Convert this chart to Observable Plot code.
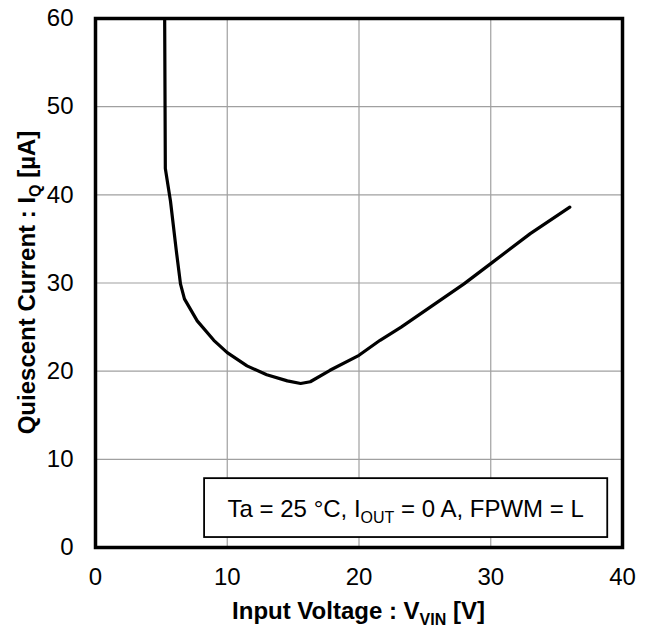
<!DOCTYPE html>
<html><head><meta charset="utf-8">
<script src="https://cdn.jsdelivr.net/npm/d3@7"></script>
<script src="https://cdn.jsdelivr.net/npm/@observablehq/plot@0.6"></script>
<style>body{margin:0;background:#fff} svg{display:block}</style>
</head><body><div id="chart"></div>
<script>
const vin = [5.25, 5.3, 5.69, 6.13, 6.45, 6.75, 7.72, 8.98, 10.0, 11.5, 13.0, 14.56, 15.57, 16.3, 17.8, 20.0, 21.6, 23.2, 27.97, 30.0, 33.0, 36.0];
const iq  = [60, 43, 39.3, 33.7, 29.9, 28.2, 25.7, 23.5, 22.1, 20.6, 19.6, 18.9, 18.6, 18.8, 20.1, 21.8, 23.5, 25.0, 29.9, 32.2, 35.6, 38.6];
const xTicks = [0, 10, 20, 30, 40];
const yTicks = [0, 10, 20, 30, 40, 50, 60];
const xTitle = ["Input Voltage : V", "VIN", " [V]"];
const yTitle = ["Quiescent Current : I", "Q", " [µA]"];
const legendText = ["Ta = 25 °C, I", "OUT", " = 0 A, FPWM = L"];

const data = vin.map((v, i) => ({vin: v, iq: iq[i]}));
const font = "'Liberation Sans', Arial, sans-serif";

const chart = Plot.plot({
  width: 654, height: 631,
  marginLeft: 95, marginRight: 32, marginTop: 18, marginBottom: 84,
  style: {fontFamily: font, fontSize: "24px", color: "#000", background: "#fff"},
  x: {domain: [0, 40], label: null},
  y: {domain: [0, 60], label: null},
  marks: [
    Plot.gridX(xTicks, {stroke: "#a0a0a0", strokeOpacity: 1, strokeWidth: 1.2}),
    Plot.gridY(yTicks, {stroke: "#a0a0a0", strokeOpacity: 1, strokeWidth: 1.2}),
    Plot.axisX(xTicks, {tickSize: 0, tickPadding: 20, fontSize: 24, label: null}),
    Plot.axisY(yTicks, {tickSize: 0, tickPadding: 22, fontSize: 24, label: null}),
    Plot.line(data, {x: "vin", y: "iq", stroke: "#000", strokeWidth: 3.2, clip: true}),
    Plot.frame({stroke: "#000", strokeWidth: 3.5})
  ]
});
document.getElementById("chart").appendChild(chart);

const svg = d3.select(chart);
const sx = chart.scale("x"), sy = chart.scale("y");

function addSubText(g, parts, size, subSize) {
  g.append("tspan").text(parts[0]);
  g.append("tspan").attr("font-size", subSize).attr("dy", size * 0.25).text(parts[1]);
  g.append("tspan").attr("dy", -size * 0.25).text(parts[2]);
}

// legend box
const bx1 = sx.apply(8.28), bx2 = sx.apply(38.88), by1 = sy.apply(7.81), by2 = sy.apply(1.13);
svg.append("rect").attr("x", bx1).attr("y", by1).attr("width", bx2 - bx1).attr("height", by2 - by1)
  .attr("fill", "#fff").attr("stroke", "#000").attr("stroke-width", 1.8);
const lt = svg.append("text").attr("x", (bx1 + bx2) / 2).attr("y", 517)
  .attr("text-anchor", "middle").attr("font-family", font).attr("font-size", 24).attr("fill", "#000");
addSubText(lt, legendText, 24, 16);

// x title
const xt = svg.append("text").attr("x", sx.apply(20)).attr("y", 618.5)
  .attr("text-anchor", "middle").attr("font-family", font).attr("font-size", 24)
  .attr("font-weight", "bold").attr("fill", "#000");
addSubText(xt, xTitle, 24, 16);

// y title
const yt = svg.append("text").attr("transform", `translate(34.5,${sy.apply(30)}) rotate(-90)`)
  .attr("text-anchor", "middle").attr("font-family", font).attr("font-size", 24)
  .attr("font-weight", "bold").attr("fill", "#000");
addSubText(yt, yTitle, 24, 16);
</script>
</body></html>
